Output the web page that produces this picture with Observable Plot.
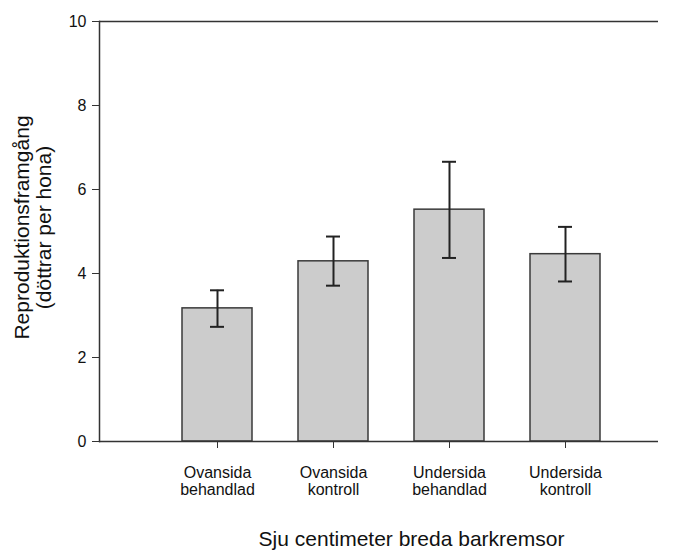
<!DOCTYPE html>
<html>
<head>
<meta charset="utf-8">
<script src="https://cdn.jsdelivr.net/npm/d3@7"></script>
<script src="https://cdn.jsdelivr.net/npm/@observablehq/plot@0.6"></script>
<style>
  html, body { margin: 0; padding: 0; background: #fff; }
</style>
</head>
<body>
<div id="chart"></div>
<script>
const categories = ["Ovansida behandlad", "Ovansida kontroll", "Undersida behandlad", "Undersida kontroll"];
const categoryLabels = ["Ovansida\nbehandlad", "Ovansida\nkontroll", "Undersida\nbehandlad", "Undersida\nkontroll"];
const means = [3.17, 4.29, 5.52, 4.46];
const lower = [2.73, 3.71, 4.37, 3.81];
const upper = [3.60, 4.88, 6.66, 5.11];
const yTicks = [0, 2, 4, 6, 8, 10];
const xTitle = "Sju centimeter breda barkremsor";
const yTitle = "Reproduktionsframgång\n(döttrar per hona)";

const data = categories.map((c, i) => ({cat: c, label: categoryLabels[i], mean: means[i], lo: lower[i], hi: upper[i]}));

const chart = Plot.plot({
  width: 678,
  height: 551,
  marginLeft: 99,
  marginRight: 20,
  marginTop: 21,
  marginBottom: 110,
  style: {fontFamily: "'Liberation Sans', Arial, sans-serif", fontSize: "16px", color: "#111", background: "#fff"},
  x: {type: "band", domain: categories, range: [157.6, 624.8], paddingInner: 0.4, paddingOuter: 0.2, label: null},
  y: {domain: [0, 10], label: null},
  marks: [
    Plot.barY(data, {x: "cat", y: "mean", fill: "#cccccc", stroke: "#3a3a3a", strokeWidth: 1.5}),
    Plot.ruleX(data, {x: "cat", y1: "lo", y2: "hi", stroke: "#222", strokeWidth: 2}),
    Plot.tickY(data, {x: "cat", y: "lo", insetLeft: 28, insetRight: 28, stroke: "#222", strokeWidth: 2}),
    Plot.tickY(data, {x: "cat", y: "hi", insetLeft: 28, insetRight: 28, stroke: "#222", strokeWidth: 2}),
    Plot.ruleY([0, 10], {stroke: "#333", strokeWidth: 1.5}),
    Plot.frame({anchor: "left", stroke: "#333", strokeWidth: 1.5}),
    Plot.axisY({ticks: yTicks, tickSize: 7, tickPadding: 6, stroke: "#333", label: null}),
    Plot.axisX({tickSize: 7, tickFormat: null, stroke: "#333", label: null}),
    Plot.text(data, {x: "cat", text: "label", frameAnchor: "bottom", dy: 25, lineAnchor: "top", lineHeight: 1.05, fontSize: 16, fill: "#111"}),
    Plot.text([xTitle], {text: d => d, frameAnchor: "bottom", dx: 32.5, dy: 98, lineAnchor: "middle", fontSize: 21, fill: "#111"}),
    Plot.text([yTitle], {text: d => d, frameAnchor: "left", textAnchor: "middle", dx: -67, dy: -4, rotate: -90, lineAnchor: "middle", lineHeight: 1.05, fontSize: 21, fill: "#111"})
  ]
});
document.getElementById("chart").appendChild(chart);
</script>
</body>
</html>
